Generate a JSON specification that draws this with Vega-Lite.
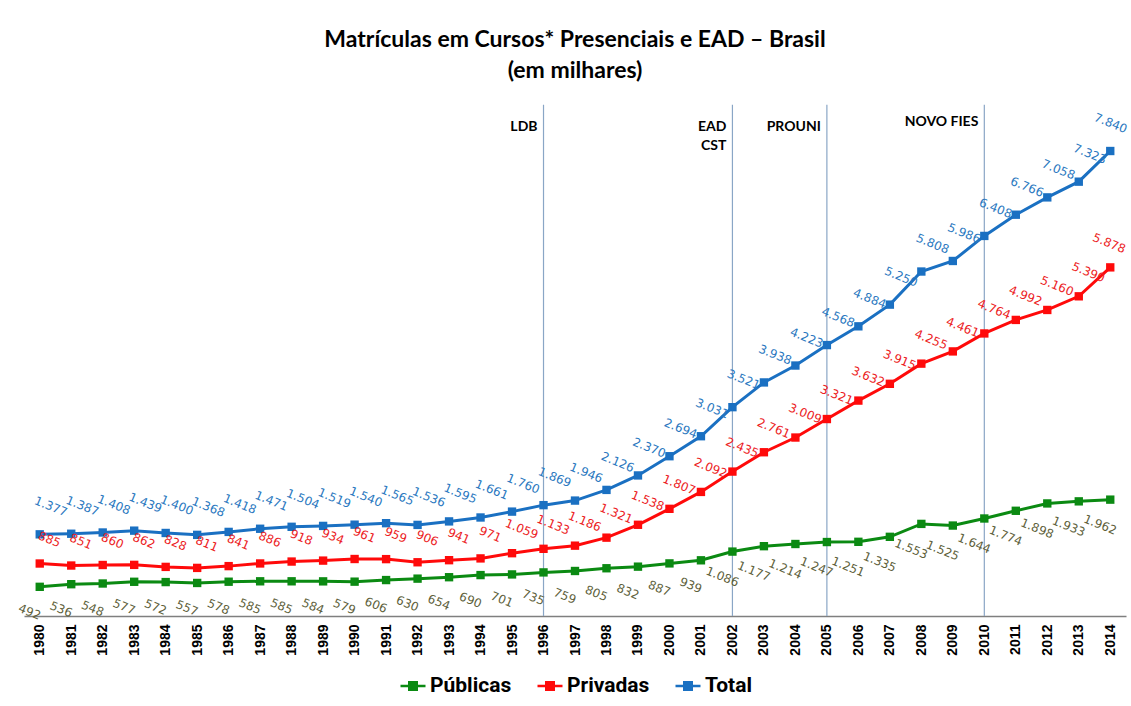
{
  "$schema": "https://vega.github.io/schema/vega-lite/v6.json",
  "autosize": "none",
  "width": 1102,
  "height": 516,
  "padding": {"left": 24, "top": 100, "right": 5, "bottom": 90},
  "background": "white",
  "config": {
    "locale": {"number": {"decimal": ",", "thousands": ".", "grouping": [3], "currency": ["R$", ""]}},
    "view": {"stroke": null},
    "legend": {"layout": {"bottom": {"anchor": "middle"}}}
  },
  "title": {
    "text": ["Matrículas em Cursos* Presenciais e EAD – Brasil", "(em milhares)"],
    "font": "Lato",
    "fontSize": 23,
    "fontWeight": "bold",
    "color": "black",
    "lineHeight": 31,
    "offset": 17,
    "anchor": "middle"
  },
  "datasets": {
    "series": [
      {"ano": 1980, "serie": "Total", "valor": 1377}, {"ano": 1980, "serie": "Privadas", "valor": 885}, {"ano": 1980, "serie": "Públicas", "valor": 492},
      {"ano": 1981, "serie": "Total", "valor": 1387}, {"ano": 1981, "serie": "Privadas", "valor": 851}, {"ano": 1981, "serie": "Públicas", "valor": 536},
      {"ano": 1982, "serie": "Total", "valor": 1408}, {"ano": 1982, "serie": "Privadas", "valor": 860}, {"ano": 1982, "serie": "Públicas", "valor": 548},
      {"ano": 1983, "serie": "Total", "valor": 1439}, {"ano": 1983, "serie": "Privadas", "valor": 862}, {"ano": 1983, "serie": "Públicas", "valor": 577},
      {"ano": 1984, "serie": "Total", "valor": 1400}, {"ano": 1984, "serie": "Privadas", "valor": 828}, {"ano": 1984, "serie": "Públicas", "valor": 572},
      {"ano": 1985, "serie": "Total", "valor": 1368}, {"ano": 1985, "serie": "Privadas", "valor": 811}, {"ano": 1985, "serie": "Públicas", "valor": 557},
      {"ano": 1986, "serie": "Total", "valor": 1418}, {"ano": 1986, "serie": "Privadas", "valor": 841}, {"ano": 1986, "serie": "Públicas", "valor": 578},
      {"ano": 1987, "serie": "Total", "valor": 1471}, {"ano": 1987, "serie": "Privadas", "valor": 886}, {"ano": 1987, "serie": "Públicas", "valor": 585},
      {"ano": 1988, "serie": "Total", "valor": 1504}, {"ano": 1988, "serie": "Privadas", "valor": 918}, {"ano": 1988, "serie": "Públicas", "valor": 585},
      {"ano": 1989, "serie": "Total", "valor": 1519}, {"ano": 1989, "serie": "Privadas", "valor": 934}, {"ano": 1989, "serie": "Públicas", "valor": 584},
      {"ano": 1990, "serie": "Total", "valor": 1540}, {"ano": 1990, "serie": "Privadas", "valor": 961}, {"ano": 1990, "serie": "Públicas", "valor": 579},
      {"ano": 1991, "serie": "Total", "valor": 1565}, {"ano": 1991, "serie": "Privadas", "valor": 959}, {"ano": 1991, "serie": "Públicas", "valor": 606},
      {"ano": 1992, "serie": "Total", "valor": 1536}, {"ano": 1992, "serie": "Privadas", "valor": 906}, {"ano": 1992, "serie": "Públicas", "valor": 630},
      {"ano": 1993, "serie": "Total", "valor": 1595}, {"ano": 1993, "serie": "Privadas", "valor": 941}, {"ano": 1993, "serie": "Públicas", "valor": 654},
      {"ano": 1994, "serie": "Total", "valor": 1661}, {"ano": 1994, "serie": "Privadas", "valor": 971}, {"ano": 1994, "serie": "Públicas", "valor": 690},
      {"ano": 1995, "serie": "Total", "valor": 1760}, {"ano": 1995, "serie": "Privadas", "valor": 1059}, {"ano": 1995, "serie": "Públicas", "valor": 701},
      {"ano": 1996, "serie": "Total", "valor": 1869}, {"ano": 1996, "serie": "Privadas", "valor": 1133}, {"ano": 1996, "serie": "Públicas", "valor": 735},
      {"ano": 1997, "serie": "Total", "valor": 1946}, {"ano": 1997, "serie": "Privadas", "valor": 1186}, {"ano": 1997, "serie": "Públicas", "valor": 759},
      {"ano": 1998, "serie": "Total", "valor": 2126}, {"ano": 1998, "serie": "Privadas", "valor": 1321}, {"ano": 1998, "serie": "Públicas", "valor": 805},
      {"ano": 1999, "serie": "Total", "valor": 2370}, {"ano": 1999, "serie": "Privadas", "valor": 1538}, {"ano": 1999, "serie": "Públicas", "valor": 832},
      {"ano": 2000, "serie": "Total", "valor": 2694}, {"ano": 2000, "serie": "Privadas", "valor": 1807}, {"ano": 2000, "serie": "Públicas", "valor": 887},
      {"ano": 2001, "serie": "Total", "valor": 3031}, {"ano": 2001, "serie": "Privadas", "valor": 2092}, {"ano": 2001, "serie": "Públicas", "valor": 939},
      {"ano": 2002, "serie": "Total", "valor": 3521}, {"ano": 2002, "serie": "Privadas", "valor": 2435}, {"ano": 2002, "serie": "Públicas", "valor": 1086},
      {"ano": 2003, "serie": "Total", "valor": 3938}, {"ano": 2003, "serie": "Privadas", "valor": 2761}, {"ano": 2003, "serie": "Públicas", "valor": 1177},
      {"ano": 2004, "serie": "Total", "valor": 4223}, {"ano": 2004, "serie": "Privadas", "valor": 3009}, {"ano": 2004, "serie": "Públicas", "valor": 1214},
      {"ano": 2005, "serie": "Total", "valor": 4568}, {"ano": 2005, "serie": "Privadas", "valor": 3321}, {"ano": 2005, "serie": "Públicas", "valor": 1247},
      {"ano": 2006, "serie": "Total", "valor": 4884}, {"ano": 2006, "serie": "Privadas", "valor": 3632}, {"ano": 2006, "serie": "Públicas", "valor": 1251},
      {"ano": 2007, "serie": "Total", "valor": 5250}, {"ano": 2007, "serie": "Privadas", "valor": 3915}, {"ano": 2007, "serie": "Públicas", "valor": 1335},
      {"ano": 2008, "serie": "Total", "valor": 5808}, {"ano": 2008, "serie": "Privadas", "valor": 4255}, {"ano": 2008, "serie": "Públicas", "valor": 1553},
      {"ano": 2009, "serie": "Total", "valor": 5986}, {"ano": 2009, "serie": "Privadas", "valor": 4461}, {"ano": 2009, "serie": "Públicas", "valor": 1525},
      {"ano": 2010, "serie": "Total", "valor": 6408}, {"ano": 2010, "serie": "Privadas", "valor": 4764}, {"ano": 2010, "serie": "Públicas", "valor": 1644},
      {"ano": 2011, "serie": "Total", "valor": 6766}, {"ano": 2011, "serie": "Privadas", "valor": 4992}, {"ano": 2011, "serie": "Públicas", "valor": 1774},
      {"ano": 2012, "serie": "Total", "valor": 7058}, {"ano": 2012, "serie": "Privadas", "valor": 5160}, {"ano": 2012, "serie": "Públicas", "valor": 1898},
      {"ano": 2013, "serie": "Total", "valor": 7323}, {"ano": 2013, "serie": "Privadas", "valor": 5390}, {"ano": 2013, "serie": "Públicas", "valor": 1933},
      {"ano": 2014, "serie": "Total", "valor": 7840}, {"ano": 2014, "serie": "Privadas", "valor": 5878}, {"ano": 2014, "serie": "Públicas", "valor": 1962}
    ],
    "eventos": [
      {"ano": 1996, "marco": "LDB", "nivel": 8370},
      {"ano": 2002, "marco": "EAD\nCST", "nivel": 8370},
      {"ano": 2005, "marco": "PROUNI", "nivel": 8370},
      {"ano": 2010, "marco": "NOVO FIES", "nivel": 8450}
    ]
  },
  "encoding": {
    "x": {
      "field": "ano",
      "type": "ordinal",
      "scale": {"type": "point", "padding": 0.5},
      "axis": {
        "title": null,
        "labelAngle": -90,
        "labelFont": "Liberation Sans",
        "labelFontWeight": "bold",
        "labelFontSize": 14,
        "labelColor": "black",
        "ticks": false,
        "labelPadding": 8,
        "domainColor": "#7f7f7f",
        "domainWidth": 1.5
      }
    }
  },
  "layer": [
    {
      "data": {"name": "eventos"},
      "mark": {"type": "rule", "color": "#8aa6c6", "strokeWidth": 1.2},
      "encoding": {
        "y": {"datum": 8620, "type": "quantitative", "scale": {"domain": [0, 8700], "nice": false, "zero": true}, "axis": null},
        "y2": {"datum": 0}
      }
    },
    {
      "data": {"name": "eventos"},
      "mark": {"type": "text", "align": "right", "baseline": "top", "dx": -6, "font": "Lato", "fontWeight": "bold", "fontSize": 14, "color": "black", "lineBreak": "\n", "lineHeight": 19},
      "encoding": {
        "y": {"field": "nivel", "type": "quantitative"},
        "text": {"field": "marco"}
      }
    },
    {
      "data": {"name": "series"},
      "mark": {"type": "line", "strokeWidth": 3},
      "encoding": {
        "y": {"field": "valor", "type": "quantitative"},
        "color": {
          "field": "serie",
          "type": "nominal",
          "scale": {"domain": ["Públicas", "Privadas", "Total"], "range": ["#0b8a12", "#ff0a0a", "#1a70c2"]},
          "legend": {
            "title": null,
            "orient": "bottom",
            "direction": "horizontal",
            "offset": 16,
            "labelFont": "Roboto",
            "labelFontSize": 21,
            "labelFontWeight": "bold",
            "labelColor": "black",
            "labelOffset": 3,
            "columnPadding": 20,
            "symbolType": "M-1,0H1M-0.3,-0.3H0.3V0.3H-0.3Z",
            "symbolSize": 625,
            "symbolStrokeWidth": 2.5,
            "encode": {
              "symbols": {
                "update": {
                  "fill": {"scale": "color", "field": "value"},
                  "stroke": {"scale": "color", "field": "value"},
                  "opacity": {"value": 1}
                }
              }
            }
          }
        }
      }
    },
    {
      "data": {"name": "series"},
      "mark": {"type": "point", "shape": "square", "filled": true, "size": 70, "opacity": 1},
      "encoding": {
        "y": {"field": "valor", "type": "quantitative"},
        "color": {"field": "serie", "type": "nominal", "legend": null}
      }
    },
    {
      "data": {"name": "series"},
      "transform": [{"filter": "datum.serie === 'Total' && datum.ano < 2014"}],
      "mark": {"type": "text", "angle": 22, "dy": -30, "font": "DejaVu Sans", "fontSize": 12, "color": "#2a78c0"},
      "encoding": {
        "y": {"field": "valor", "type": "quantitative"},
        "text": {"field": "valor", "type": "quantitative", "format": ",.0f"}
      }
    },
    {
      "data": {"name": "series"},
      "transform": [{"filter": "datum.serie === 'Total' && datum.ano === 2014"}],
      "mark": {"type": "text", "angle": 22, "dy": -26, "dx": -10, "font": "DejaVu Sans", "fontSize": 12, "color": "#2a78c0"},
      "encoding": {
        "y": {"field": "valor", "type": "quantitative"},
        "text": {"field": "valor", "type": "quantitative", "format": ",.0f"}
      }
    },
    {
      "data": {"name": "series"},
      "transform": [{"filter": "datum.serie === 'Privadas' && datum.ano < 2014"}],
      "mark": {"type": "text", "angle": 22, "dy": -26, "font": "DejaVu Sans", "fontSize": 12, "color": "#ec1c24"},
      "encoding": {
        "y": {"field": "valor", "type": "quantitative"},
        "text": {"field": "valor", "type": "quantitative", "format": ",.0f"}
      }
    },
    {
      "data": {"name": "series"},
      "transform": [{"filter": "datum.serie === 'Privadas' && datum.ano === 2014"}],
      "mark": {"type": "text", "angle": 22, "dy": -22, "dx": -10, "font": "DejaVu Sans", "fontSize": 12, "color": "#ec1c24"},
      "encoding": {
        "y": {"field": "valor", "type": "quantitative"},
        "text": {"field": "valor", "type": "quantitative", "format": ",.0f"}
      }
    },
    {
      "data": {"name": "series"},
      "transform": [{"filter": "datum.serie === 'Públicas'"}],
      "mark": {"type": "text", "angle": 22, "dy": 27, "font": "DejaVu Sans", "fontSize": 12, "color": "#5e5f3b"},
      "encoding": {
        "y": {"field": "valor", "type": "quantitative"},
        "text": {"field": "valor", "type": "quantitative", "format": ",.0f"}
      }
    }
  ]
}
